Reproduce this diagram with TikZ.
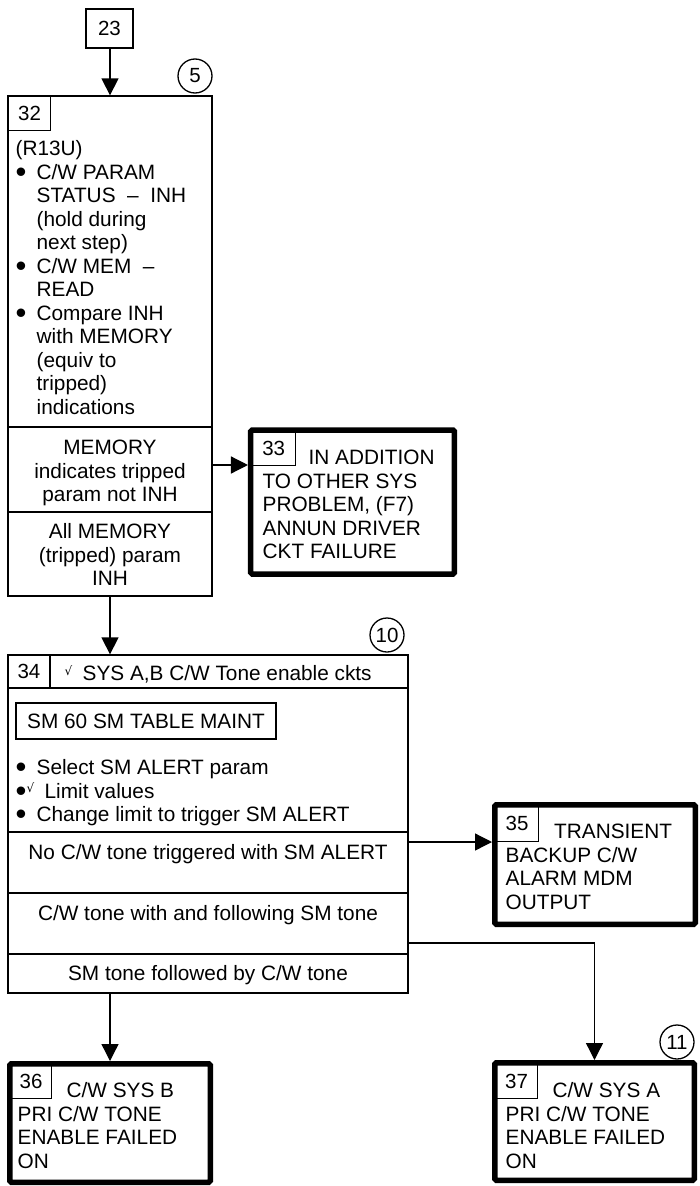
\documentclass[tikz,border=0pt]{standalone}
\usepackage{fontspec}
\setmainfont{Liberation Sans}
\newfontfamily\djv{DejaVu Sans}
\usetikzlibrary{arrows.meta}
\newcommand\mfont{\fontsize{20.8}{23.5}\selectfont}
\newcommand\lfont{\fontsize{20.5}{22}\selectfont}
\newcommand\myfs{\rule{0pt}{16pt}}
\newcommand\mybul{\makebox[21pt][l]{\raisebox{-3.2pt}{\fontsize{31}{23.5}\selectfont •}}}
\newcommand\mybulx{\makebox[11pt][l]{\raisebox{-3.2pt}{\fontsize{31}{23.5}\selectfont •}}}
\newcommand\myind{\hspace*{21pt}}
\newcommand\mychk{{\djv\fontsize{12}{12}\selectfont √}}
\begin{document}
\begin{tikzpicture}[x=1pt,y=-1pt,line width=1.3pt,
  arr/.style={-{Triangle[length=17pt,width=17pt]}},
  box/.style={draw,inner sep=0,rectangle},
  heavy/.style={draw,line width=5.5pt,rounded corners=1.5pt,inner sep=0},
  lbl/.style={draw,inner sep=0,font=\lfont,anchor=north west,line width=1.3pt},
  txt/.style={inner sep=0,anchor=north west,align=left,font=\mfont},
  ctxt/.style={inner sep=0,anchor=north,align=center,font=\mfont},
  num/.style={circle,draw,minimum size=34pt,inner sep=0,font=\lfont}]
\useasboundingbox[fill=white] (0,0) rectangle (699,1186);
% helper y-levels
\coordinate (y427) at (0,427);
\coordinate (y512) at (0,512);
\coordinate (y465) at (0,465);
\coordinate (y688) at (0,688);
\coordinate (y832) at (0,832);
\coordinate (y842) at (0,842);
\coordinate (y893) at (0,893);
\coordinate (y943) at (0,943);
\coordinate (y954) at (0,954);
\coordinate (x50) at (50,0);
% box 23
\node[box,minimum width=47pt,minimum height=39pt,font=\lfont] (b23) at (109.5,28.5) {23};
\node[num] (c5) at (195,76) {5};
% box 32
\node[box,minimum width=204pt,minimum height=500pt] (b32) at (110,346) {};
\node[lbl,minimum width=42pt,minimum height=34pt] (l32) at (8,96) {32};
\node[txt] (t32) at (15,139) {\myfs(R13U)\\\mybul C/W PARAM\\\myind STATUS\ \ –\ \ INH\\\myind (hold during\\\myind next step)\\\mybul C/W MEM\ \ –\\\myind READ\\\mybul Compare INH\\\myind with MEMORY\\\myind (equiv to\\\myind tripped)\\\myind indications};
\draw (b32.west |- y427) -- (b32.east |- y427);
\draw (b32.west |- y512) -- (b32.east |- y512);
\node[ctxt] (t32a) at (110,438) {\myfs MEMORY\\indicates tripped\\param not INH};
\node[ctxt] (t32b) at (110,522) {\myfs All MEMORY\\(tripped) param\\INH};
\draw[arr] (b23.south -| b32.north) -- (b32.north);
% box 33
\node[heavy,minimum width=203.75pt,minimum height=144pt] (b33) at (352.6,502) {};
\node[lbl,minimum width=44pt,minimum height=35pt] (l33) at (251,430) {33};
\node[txt] (t33) at (262,448) {\myfs\hspace*{46pt}IN ADDITION\\TO OTHER SYS\\PROBLEM, (F7)\\ANNUN DRIVER\\CKT FAILURE};
\draw[arr] (b32.east |- y465) -- (b33.west |- y465);
% box 34
\node[box,minimum width=400pt,minimum height=338pt] (b34) at (208,824) {};
\node[num] (c10) at (387,635) {10};
\draw (b34.west |- y688) -- (b34.east |- y688);
\draw (b34.north -| x50) -- (y688 -| x50);
\node[font=\lfont,inner sep=0] (l34) at (29,671.5) {34};
\node[txt] (t34h) at (64,664) {\myfs\makebox[18pt][l]{\raisebox{5pt}{\mychk}}SYS A,B C/W Tone enable ckts};
\node[box,minimum width=260pt,minimum height=36pt,font=\mfont] (sm60) at (146,721) {SM 60 SM TABLE MAINT};
\node[txt] (t34b) at (15,758) {\myfs\mybul Select SM ALERT param\\\mybulx\makebox[18pt][l]{\raisebox{6pt}{\mychk}}Limit values\\\mybul Change limit to trigger SM ALERT};
\draw (b34.west |- y832) -- (b34.east |- y832);
\draw (b34.west |- y893) -- (b34.east |- y893);
\draw (b34.west |- y954) -- (b34.east |- y954);
\node[ctxt] (r1) at (208,843) {\myfs No C/W tone triggered with SM ALERT};
\node[ctxt] (r2) at (208,904) {\myfs C/W tone with and following SM tone};
\node[ctxt] (r3) at (208,964) {\myfs SM tone followed by C/W tone};
\draw[arr] (b32.south) -- (b32.south |- b34.north);
% box 35
\node[heavy,minimum width=200.5pt,minimum height=119.5pt] (b35) at (595,864.5) {};
\node[lbl,minimum width=43.25pt,minimum height=36.25pt] (l35) at (494.75,804.75) {35};
\node[txt] (t35) at (505,822) {\myfs\hspace*{48.5pt}TRANSIENT\\BACKUP C/W\\ALARM MDM\\OUTPUT};
\draw[arr] (b34.east |- y842) -- (b35.west |- y842);
% box 36
\node[heavy,minimum width=200.5pt,minimum height=118.5pt] (b36) at (110,1123) {};
\node[lbl,minimum width=41.25pt,minimum height=34.25pt] (l36) at (9.75,1063.75) {36};
\node[txt] (t36) at (17,1081) {\myfs\hspace*{49pt}C/W SYS B\\PRI C/W TONE\\ENABLE FAILED\\ON};
\draw[arr] (b36.north |- b34.south) -- (b36.north);
% box 37
\node[heavy,minimum width=199.5pt,minimum height=117.5pt] (b37) at (594.5,1121.5) {};
\node[lbl,minimum width=42.25pt,minimum height=35.25pt] (l37) at (494.75,1062.75) {37};
\node[txt] (t37) at (505,1081) {\myfs\hspace*{47pt}C/W SYS A\\PRI C/W TONE\\ENABLE FAILED\\ON};
\node[num] (c11) at (677,1042) {11};
\draw[arr] (b34.east |- y943) -| (b37.north);
\end{tikzpicture}
\end{document}
